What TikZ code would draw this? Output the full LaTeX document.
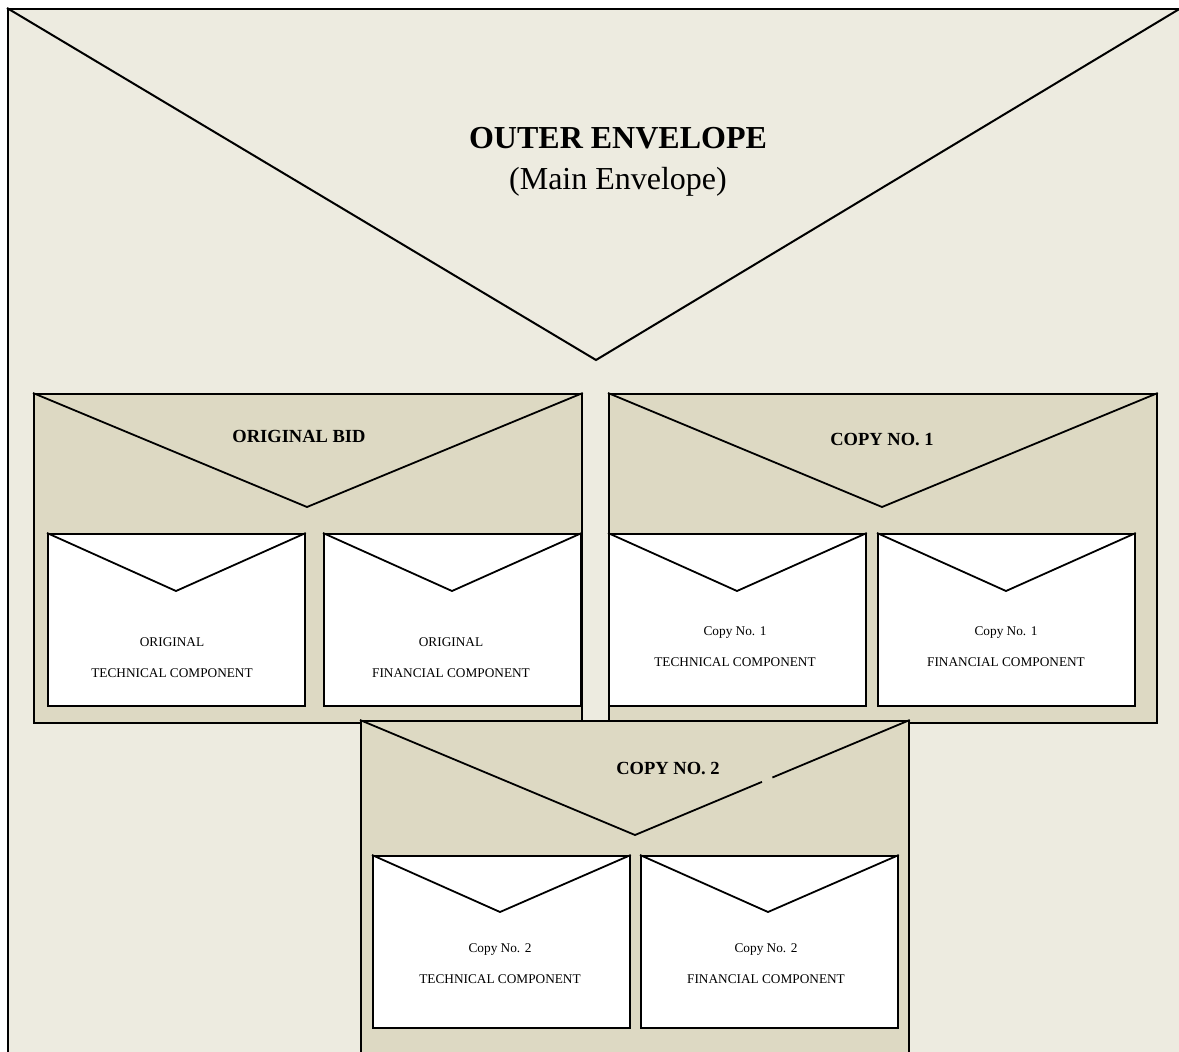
\documentclass[tikz,border=0pt]{standalone}
\usepackage{fontspec}
\setmainfont{Liberation Serif}
\usetikzlibrary{calc}

\definecolor{outerbg}{RGB}{237,235,224}
\definecolor{bidbg}{RGB}{221,217,195}

\tikzset{
  outerenv/.style={draw, line width=2.2pt, fill=outerbg, anchor=north west, inner sep=0pt,
    minimum width=1190pt, minimum height=1060pt},
  bidenv/.style={draw, line width=1.8pt, fill=bidbg, anchor=north west, inner sep=0pt,
    minimum width=548pt, minimum height=329pt},
  compenv/.style={draw, line width=1.8pt, fill=white, anchor=north west, inner sep=0pt,
    minimum width=257pt, minimum height=172pt},
  flap/.style={line width=1.8pt, line join=miter},
  outerlabel/.style={align=center, font=\fontsize{32}{41}\selectfont},
  bidlabel/.style={font=\fontsize{18.5}{22}\selectfont\bfseries},
  complabel/.style={align=center, font=\fontsize{13.3}{31}\selectfont}
}

\begin{document}
\begin{tikzpicture}[x=1pt, y=-1pt]
  \useasboundingbox (0,0) rectangle (1179,1052);
  \clip (0,0) rectangle (1179,1052);

  % Outer envelope
  \node[outerenv] (outer) at (7,8) {};
  \coordinate (outerv) at (596,360);
  \coordinate (outerne) at (1181,8);
  \draw[flap, line width=2pt] (outer.north west) -- (outerv) -- (outerne);
  \node[outerlabel] (outerlbl) at (618,162) {\textbf{OUTER ENVELOPE}\\(Main Envelope)};

  % Original bid
  \node[bidenv] (orig) at (33,393) {};
  \coordinate (origv) at (307,507);
  \draw[flap] (orig.north west) -- (origv) -- (orig.north east);
  \node[bidlabel] (origlbl) at (299,436) {ORIGINAL BID};

  \node[compenv] (origtech) at (47,533) {};
  \coordinate (origtechv) at (176,591);
  \draw[flap] (origtech.north west) -- (origtechv) -- (origtech.north east);
  \node[complabel] (origtechlbl) at (172,658) {ORIGINAL\\TECHNICAL COMPONENT};

  \node[compenv] (origfin) at (323,533) {};
  \coordinate (origfinv) at (452,591);
  \draw[flap] (origfin.north west) -- (origfinv) -- (origfin.north east);
  \node[complabel] (origfinlbl) at (451,658) {ORIGINAL\\FINANCIAL COMPONENT};

  % Copy no. 1
  \node[bidenv] (copya) at (608,393) {};
  \coordinate (copyav) at (882,507);
  \draw[flap] (copya.north west) -- (copyav) -- (copya.north east);
  \node[bidlabel] (copyalbl) at (882,440) {COPY NO. 1};

  \node[compenv] (copyatech) at (608,533) {};
  \coordinate (copyatechv) at (737,591);
  \draw[flap] (copyatech.north west) -- (copyatechv) -- (copyatech.north east);
  \node[complabel] (copyatechlbl) at (735,647) {Copy No. 1\\TECHNICAL COMPONENT};

  \node[compenv] (copyafin) at (877,533) {};
  \coordinate (copyafinv) at (1006,591);
  \draw[flap] (copyafin.north west) -- (copyafinv) -- (copyafin.north east);
  \node[complabel] (copyafinlbl) at (1006,647) {Copy No. 1\\FINANCIAL COMPONENT};

  % Copy no. 2
  \node[bidenv, minimum height=340pt] (copyb) at (360,720) {};
  \coordinate (copybv) at (635,835);
  \draw[flap] (copyb.north west) -- (copybv) -- ($(copybv)!0.462!(copyb.north east)$);
  \draw[flap] ($(copybv)!0.5!(copyb.north east)$) -- (copyb.north east);
  \node[bidlabel] (copyblbl) at (668,768) {COPY NO. 2};

  \node[compenv] (copybtech) at (372,855) {};
  \coordinate (copybtechv) at (500,912);
  \draw[flap] (copybtech.north west) -- (copybtechv) -- (copybtech.north east);
  \node[complabel] (copybtechlbl) at (500,964) {Copy No. 2\\TECHNICAL COMPONENT};

  \node[compenv] (copybfin) at (640,855) {};
  \coordinate (copybfinv) at (768,912);
  \draw[flap] (copybfin.north west) -- (copybfinv) -- (copybfin.north east);
  \node[complabel] (copybfinlbl) at (766,964) {Copy No. 2\\FINANCIAL COMPONENT};
\end{tikzpicture}
\end{document}
